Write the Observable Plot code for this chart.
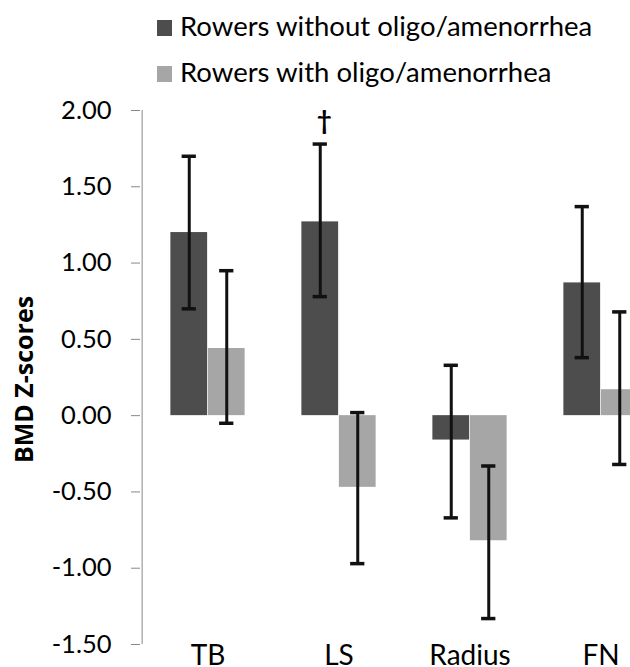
<!DOCTYPE html>
<html><head><meta charset="utf-8">
<script src="https://cdn.jsdelivr.net/npm/d3@7"></script>
<script src="https://cdn.jsdelivr.net/npm/@observablehq/plot@0.6"></script>
<style>
body{margin:0;background:#fff;font-family:Lato,sans-serif;width:630px;height:667px;overflow:hidden}
#legend{position:relative;height:95px}
.sw{position:absolute;left:157px;width:15px;height:16px}
.lt{position:absolute;left:180px;font-size:27.5px;line-height:27.5px;color:#000;white-space:nowrap}
</style></head><body>
<div id="legend"></div>
<div id="chart"></div>
<script>
const categories = ["TB", "LS", "Radius", "FN"];
const seriesNames = ["Rowers without oligo/amenorrhea", "Rowers with oligo/amenorrhea"];
const seriesColors = ["#4d4d4d", "#a6a6a6"];
const withoutMean = [1.20, 1.27, -0.16, 0.87];
const withoutLow  = [0.70, 0.78, -0.67, 0.38];
const withoutHigh = [1.70, 1.78, 0.33, 1.37];
const withMean = [0.44, -0.47, -0.82, 0.17];
const withLow  = [-0.05, -0.97, -1.33, -0.32];
const withHigh = [0.95, 0.02, -0.33, 0.68];
const yTicks = [-1.5, -1, -0.5, 0, 0.5, 1, 1.5, 2];
const yLabel = "BMD Z-scores";
const markers = [{category: "LS", text: "\u2020"}];

// legend
const legend = document.getElementById("legend");
seriesNames.forEach((name, i) => {
  const sw = document.createElement("div");
  sw.className = "sw"; sw.style.top = (20 + i * 46) + "px"; sw.style.background = seriesColors[i];
  const t = document.createElement("div");
  t.className = "lt"; t.style.top = (12 + i * 46) + "px"; t.textContent = name;
  legend.appendChild(sw); legend.appendChild(t);
});

const rowsWithout = categories.map((c, i) => ({category: c, mean: withoutMean[i], low: withoutLow[i], high: withoutHigh[i]}));
const rowsWith = categories.map((c, i) => ({category: c, mean: withMean[i], low: withLow[i], high: withHigh[i]}));
const markRows = markers.map(m => ({...m, y: rowsWithout.find(r => r.category === m.category).high}));

const W = 630, H = 572, mL = 140, mR = -37;
const step = (W - mL - mR) / categories.length;
const half = step / 2, bw = 37.5, off = bw / 2, cap = 7.5;

const chart = Plot.plot({
  width: W, height: H,
  marginTop: 15, marginBottom: 23, marginLeft: mL, marginRight: mR,
  style: {fontFamily: "Lato, sans-serif", background: "white", color: "black"},
  x: {domain: categories, padding: 0},
  y: {domain: [-1.5, 2]},
  marks: [
    Plot.barY(rowsWithout, {x: "category", y1: 0, y2: "mean", fill: seriesColors[0], insetLeft: half - bw, insetRight: half}),
    Plot.barY(rowsWith, {x: "category", y1: 0, y2: "mean", fill: seriesColors[1], insetLeft: half, insetRight: half - bw}),
    Plot.ruleX(rowsWithout, {x: "category", y1: "low", y2: "high", dx: -off, stroke: "#111", strokeWidth: 3}),
    Plot.ruleX(rowsWith, {x: "category", y1: "low", y2: "high", dx: off, stroke: "#111", strokeWidth: 3}),
    Plot.tickY(rowsWithout, {x: "category", y: "low", dx: -off, insetLeft: half - cap, insetRight: half - cap, stroke: "#111", strokeWidth: 3.5}),
    Plot.tickY(rowsWithout, {x: "category", y: "high", dx: -off, insetLeft: half - cap, insetRight: half - cap, stroke: "#111", strokeWidth: 3.5}),
    Plot.tickY(rowsWith, {x: "category", y: "low", dx: off, insetLeft: half - cap, insetRight: half - cap, stroke: "#111", strokeWidth: 3.5}),
    Plot.tickY(rowsWith, {x: "category", y: "high", dx: off, insetLeft: half - cap, insetRight: half - cap, stroke: "#111", strokeWidth: 3.5}),
    Plot.ruleX([categories[0]], {x: d => d, dx: -half, y1: -1.5, y2: 2, stroke: "#888", strokeWidth: 1}),
    Plot.axisY({ticks: yTicks, tickSize: 9, tickPadding: 20, tickFormat: d => d.toFixed(2), fontSize: 25.5, stroke: "#888", fill: "#000", label: null}),
    Plot.axisX({tickSize: 0, tickPadding: 1, fontSize: 28, label: null, fill: "#000"}),
    Plot.text([yLabel], {frameAnchor: "left", text: d => d, rotate: -90, textAnchor: "middle", dx: -116, dy: 2, fontSize: 25, fontWeight: "bold", fontFamily: "Open Sans, sans-serif", fill: "#000"}),
    Plot.text(markRows, {x: "category", y: "y", text: "text", dx: -off + 4, dy: -22, fontSize: 26, fontWeight: "bold", fill: "#000"})
  ]
});
document.getElementById("chart").appendChild(chart);
</script>
</body></html>
